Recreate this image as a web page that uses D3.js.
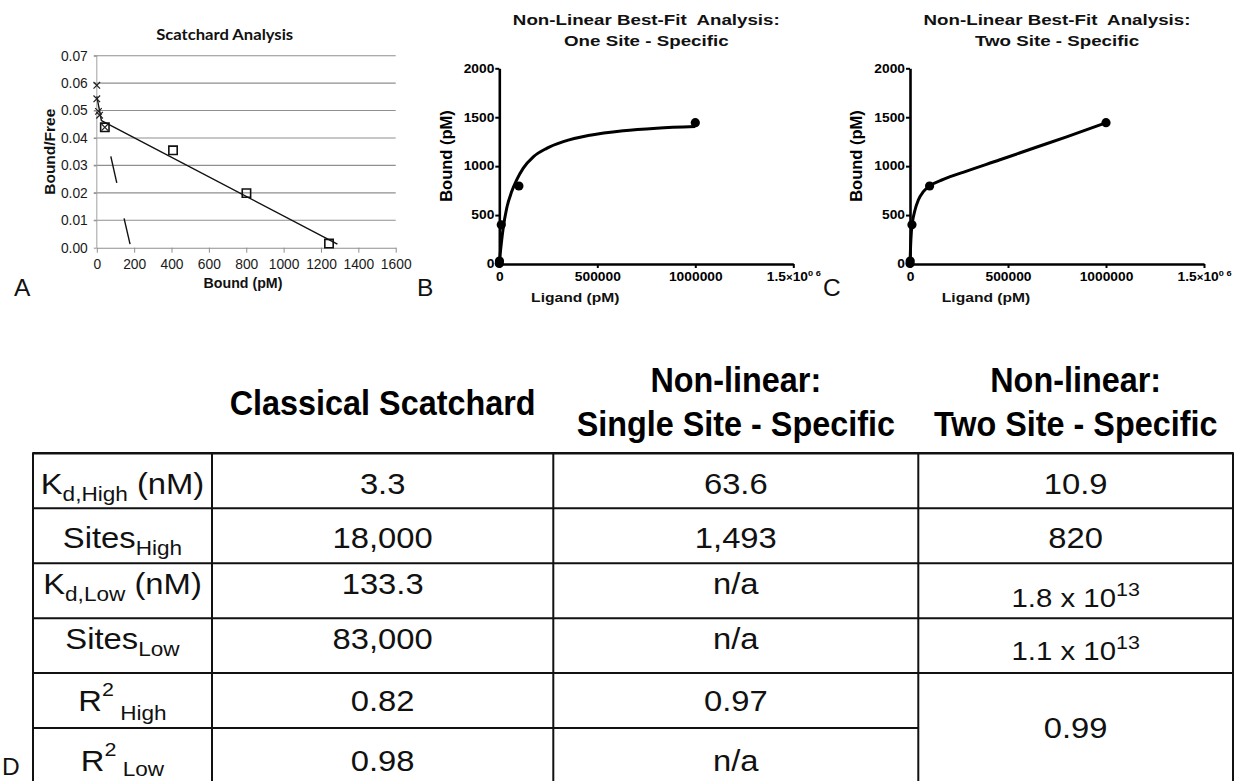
<!DOCTYPE html>
<html>
<head>
<meta charset="utf-8">
<script src="https://cdn.jsdelivr.net/npm/d3@7"></script>
<style>
  body { margin: 0; background: #fff; }
  svg { display: block; font-family: "Liberation Sans", Arial, sans-serif; }
  text { white-space: pre; }
</style>
</head>
<body>
<svg id="fig" width="1239" height="781"></svg>
<script>
'use strict'

// panel A - Scatchard plot
var scatXTicks = [0, 200, 400, 600, 800, 1000, 1200, 1400, 1600]
var scatYTicks = [0, 0.01, 0.02, 0.03, 0.04, 0.05, 0.06, 0.07]
var highAffinity = [[0, 0.0592], [0, 0.0543], [9, 0.0497], [15, 0.0483], [43, 0.0439]]
var lowAffinity = [[43, 0.0439], [408, 0.0355], [801, 0.0199], [1243, 0.0015]]
var highFit = [[0, 0.0552], [25, 0.0462]]
var lowFit = [[25, 0.0463], [1288, 0.0013]]
var strayMarks = [
  [[75, 0.0333], [107, 0.0236]],
  [[146, 0.0107], [178, 0.0013]]
]

// panels B and C - non-linear fits
var ligand = [100, 1000, 10000, 100000, 1000000]
var bound = [5, 30, 400, 797, 1444]
var oneSiteFit = [[0, 0], [5000, 110], [12200, 245], [20400, 375], [37700, 570], [63200, 740],
  [88700, 860], [122400, 980], [173500, 1095], [241800, 1182], [326500, 1250], [462700, 1316],
  [632600, 1362], [803000, 1388], [1000000, 1405]]
var twoSiteFit = [[0, 0], [3000, 180], [7000, 330], [12000, 420], [25500, 552], [42500, 654],
  [68000, 739], [102000, 800], [170000, 865], [289000, 950], [459000, 1065], [629000, 1183],
  [799000, 1300], [1000000, 1444]]
var fitXTicks = [0, 500000, 1000000, 1500000]
var fitYTicks = [0, 500, 1000, 1500, 2000]

// panel D - table
var tableHeads = [
  ['Classical Scatchard'],
  ['Non-linear:', 'Single Site - Specific'],
  ['Non-linear:', 'Two Site - Specific']
]
var rowLabels = [
  [['K', 0], ['d,High', 'sub'], [' (nM)', 'back']],
  [['Sites', 0], ['High', 'sub']],
  [['K', 0], ['d,Low', 'sub'], [' (nM)', 'back']],
  [['Sites', 0], ['Low', 'sub']],
  [['R', 0], ['2', 'sup'], [' High', 'subAfterSup']],
  [['R', 0], ['2', 'sup'], [' Low', 'subAfterSup']]
]
var scatchardCol = ['3.3', '18,000', '133.3', '83,000', '0.82', '0.98']
var singleSiteCol = ['63.6', '1,493', 'n/a', 'n/a', '0.97', 'n/a']
var twoSiteCol = [['10.9'], ['820'], ['1.8 x 10', '13'], ['1.1 x 10', '13'], ['0.99']]

var svg = d3.select('#fig')
svg.append('rect').attr('width', 1239).attr('height', 781).attr('fill', '#fff')

// text stretched horizontally around its anchor
function stretched(g, x, y, str, sx, size, weight, anchor) {
  return g.append('text')
    .attr('transform', 'translate(' + x + ',' + y + ') scale(' + sx + ',1)')
    .attr('text-anchor', anchor || 'middle')
    .attr('font-size', size)
    .attr('font-weight', weight || 'normal')
    .attr('fill', '#111')
    .text(str)
}

// ---------------- panel A ----------------
var xA = d3.scaleLinear().domain([0, 1600]).range([96.8, 395.7])
var yA = d3.scaleLinear().domain([0, 0.07]).range([247.7, 55.7])
var gA = svg.append('g')

gA.append('g').selectAll('line')
  .data(scatYTicks.slice(1))
  .enter().append('line')
  .attr('x1', xA(0) - 3).attr('x2', xA(1600))
  .attr('y1', yA).attr('y2', yA)
  .attr('stroke', '#8f8f8f').attr('stroke-width', 1.1)

gA.append('line')
  .attr('x1', xA(0)).attr('x2', xA(0))
  .attr('y1', yA(0)).attr('y2', yA(0.07))
  .attr('stroke', '#a8a8a8').attr('stroke-width', 1.1)

var axA = gA.append('g').attr('transform', 'translate(' + xA(0) + ',0)')
  .call(d3.axisLeft(yA).tickValues(scatYTicks).tickFormat(d3.format('.2f')).tickSize(3).tickSizeOuter(0).tickPadding(6))
axA.select('.domain').remove()
axA.selectAll('line').attr('stroke', '#8f8f8f')

var axAx = gA.append('g').attr('transform', 'translate(0,' + yA(0) + ')')
  .call(d3.axisBottom(xA).tickValues(scatXTicks).tickFormat(d3.format('d')).tickSize(5).tickSizeOuter(0).tickPadding(6.5))
axAx.select('.domain').attr('stroke', '#8f8f8f').attr('stroke-width', 1.1)
axAx.selectAll('line').attr('stroke', '#8f8f8f')

gA.selectAll('.tick text').attr('font-size', 13.8).attr('fill', '#1a1a1a')
  .attr('font-family', '"Liberation Sans", Arial, sans-serif')

var lineA = d3.line().x(function(d) { return xA(d[0]) }).y(function(d) { return yA(d[1]) })
gA.append('g').selectAll('path')
  .data([highFit, lowFit].concat(strayMarks))
  .enter().append('path')
  .attr('d', lineA)
  .attr('fill', 'none').attr('stroke', '#111').attr('stroke-width', 1.4)

gA.append('g').selectAll('path')
  .data(lowAffinity)
  .enter().append('path')
  .attr('transform', function(d) { return 'translate(' + xA(d[0]) + ',' + yA(d[1]) + ')' })
  .attr('d', d3.symbol().type(d3.symbolSquare).size(70))
  .attr('fill', 'none').attr('stroke', '#111').attr('stroke-width', 1.6)

gA.append('g').selectAll('path')
  .data(highAffinity)
  .enter().append('path')
  .attr('transform', function(d) { return 'translate(' + xA(d[0]) + ',' + yA(d[1]) + ')' })
  .attr('d', d3.symbol().type(d3.symbolTimes || d3.symbolX).size(30))
  .attr('fill', 'none').attr('stroke', '#222').attr('stroke-width', 1.2)

gA.append('text')
  .attr('x', 224.7).attr('y', 39.5)
  .attr('text-anchor', 'middle')
  .attr('font-family', 'Lato, "Open Sans", sans-serif')
  .attr('font-weight', 'bold').attr('font-size', 15.5)
  .attr('textLength', 137).attr('lengthAdjust', 'spacingAndGlyphs')
  .attr('fill', '#111')
  .text('Scatchard Analysis')

gA.append('text')
  .attr('x', 243).attr('y', 287.5)
  .attr('text-anchor', 'middle')
  .attr('font-weight', 'bold').attr('font-size', 14.2)
  .attr('fill', '#111')
  .text('Bound (pM)')

gA.append('text')
  .attr('transform', 'translate(55,151.7) rotate(-90)')
  .attr('text-anchor', 'middle')
  .attr('font-weight', 'bold').attr('font-size', 15.5)
  .attr('fill', '#111')
  .text('Bound/Free')

// ---------------- panels B and C ----------------
var SX = 1.25
var TICK_SX = 1.15

function fitPanel(left, subtitle, fitPts) {
  var x = d3.scaleLinear().domain([0, 1500000]).range([left, left + 294])
  var y = d3.scaleLinear().domain([0, 2000]).range([264, 68.3])
  var g = svg.append('g')
  var mid = left + 147

  stretched(g, mid, 25, 'Non-Linear Best-Fit  Analysis:', SX, 15, 'bold')
  stretched(g, mid, 46, subtitle, SX, 15, 'bold')

  var yAx = g.append('g').attr('transform', 'translate(' + left + ',0)')
    .call(d3.axisLeft(y).tickValues(fitYTicks).tickFormat(d3.format('d')).tickSize(4).tickSizeOuter(0).tickPadding(1))

  var xAx = g.append('g').attr('transform', 'translate(0,264)')
    .call(d3.axisBottom(x).tickValues(fitXTicks).tickSize(4).tickSizeOuter(0).tickPadding(4.5)
      .tickFormat(function(d) { return d === 1500000 ? '' : d }))

  g.selectAll('.domain').attr('stroke', '#000').attr('stroke-width', 2.6)
  g.selectAll('.tick line').attr('stroke', '#000').attr('stroke-width', 2)
  g.selectAll('.tick text')
    .attr('font-size', 12).attr('font-weight', 'bold').attr('fill', '#000')
    .attr('font-family', '"Liberation Sans", Arial, sans-serif')
    .attr('x', function() { return (+d3.select(this).attr('x') || 0) / TICK_SX })
    .attr('transform', 'scale(' + TICK_SX + ',1)')

  var last = xAx.selectAll('.tick text').filter(function(d) { return d === 1500000 })
  last.append('tspan').text('1.5')
  last.append('tspan').attr('font-size', 10).text('\u00d7')
  last.append('tspan').text('10')
  last.append('tspan').attr('font-size', 8).attr('dy', -5).text('0 6')

  g.append('path')
    .datum(fitPts)
    .attr('d', d3.line().curve(d3.curveMonotoneX)
      .x(function(d) { return x(d[0]) }).y(function(d) { return y(d[1]) }))
    .attr('fill', 'none').attr('stroke', '#000').attr('stroke-width', 3)

  g.append('g').selectAll('circle')
    .data(ligand)
    .enter().append('circle')
    .attr('cx', function(d) { return x(d) })
    .attr('cy', function(d, i) { return y(bound[i]) })
    .attr('r', 4.6)
    .attr('fill', '#000')

  g.append('text')
    .attr('transform', 'translate(' + (left - 47.8) + ',156) rotate(-90)')
    .attr('text-anchor', 'middle')
    .attr('font-weight', 'bold').attr('font-size', 16.5)
    .attr('fill', '#000')
    .text('Bound (pM)')

  stretched(g, left + 76, 302, 'Ligand (pM)', SX, 12.5, 'bold')
}

fitPanel(499.3, 'One Site - Specific', oneSiteFit)
fitPanel(910, 'Two Site - Specific', twoSiteFit)

// panel letters
var letters = [['A', 14, 296], ['B', 417, 296], ['C', 823, 296], ['D', 2, 775]]
svg.append('g').selectAll('text')
  .data(letters)
  .enter().append('text')
  .attr('x', function(d) { return d[1] })
  .attr('y', function(d) { return d[2] })
  .attr('font-size', 24.5)
  .attr('fill', '#111')
  .text(function(d) { return d[0] })

// ---------------- panel D : table ----------------
var colEdges = [33, 212, 553.3, 918.3, 1233]
var rowY = d3.scaleLinear().domain([0, 6]).range([453.3, 783])
var rowBase = [494, 548, 594, 649, 711, 771]
var subDrop = [7, 7, 7, 7, 9, 5]
var twoSiteBase = [494, 548, 606.7, 660, 738.3]
var TX = 1.13
var gD = svg.append('g')

var colMid = function(i) { return (colEdges[i] + colEdges[i + 1]) / 2 }

// headers
tableHeads.forEach(function(lines, i) {
  var bases = lines.length === 1 ? [415] : [392, 436]
  lines.forEach(function(s, j) {
    stretched(gD, colMid(i + 1), bases[j], s, 0.925, 35, 'bold').attr('fill', '#000')
  })
})

// grid
d3.range(7).forEach(function(r) {
  gD.append('line')
    .attr('x1', colEdges[0]).attr('x2', r === 5 ? colEdges[3] : colEdges[4])
    .attr('y1', rowY(r)).attr('y2', rowY(r))
    .attr('stroke', '#111').attr('stroke-width', r === 0 ? 2.6 : 2)
})
colEdges.forEach(function(cx) {
  gD.append('line')
    .attr('x1', cx).attr('x2', cx)
    .attr('y1', rowY(0) - 1).attr('y2', rowY(6))
    .attr('stroke', '#111').attr('stroke-width', 2)
})

// row labels
rowLabels.forEach(function(parts, r) {
  var t = stretched(gD, colMid(0), rowBase[r], '', TX, 29)
  parts.forEach(function(p) {
    var sp = t.append('tspan').text(p[0])
    if (p[1] === 'sub') sp.attr('font-size', 20).attr('dy', subDrop[r])
    else if (p[1] === 'back') sp.attr('dy', -subDrop[r])
    else if (p[1] === 'sup') sp.attr('font-size', 19).attr('dy', -15)
    else if (p[1] === 'subAfterSup') sp.attr('font-size', 20).attr('dy', 15 + subDrop[r])
  })
})

// values
scatchardCol.forEach(function(v, r) { stretched(gD, colMid(1), rowBase[r], v, TX, 29) })
singleSiteCol.forEach(function(v, r) { stretched(gD, colMid(2), rowBase[r], v, TX, 29) })
twoSiteCol.forEach(function(v, r) {
  var t = stretched(gD, colMid(3), twoSiteBase[r], '', TX, v.length > 1 ? 26 : 29)
  t.append('tspan').text(v[0])
  if (v.length > 1) t.append('tspan').attr('font-size', 19).attr('dy', -11).text(v[1])
})
</script>
</body>
</html>
